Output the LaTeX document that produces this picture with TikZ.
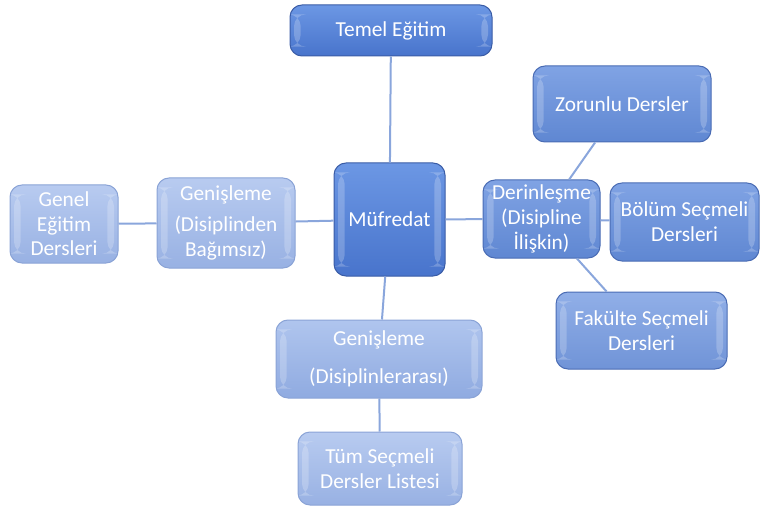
\documentclass[tikz,border=0pt]{standalone}
\usepackage{fontspec}
\setmainfont{Carlito}

\definecolor{darktop}{HTML}{6C97E4}
\definecolor{darkbot}{HTML}{4874CC}
\definecolor{darkedge}{HTML}{3A5CA6}
\definecolor{midtop}{HTML}{80A3E4}
\definecolor{midbot}{HTML}{5F87D2}
\definecolor{midedge}{HTML}{4A6CB4}
\definecolor{lighttop}{HTML}{B8CBF0}
\definecolor{lightbot}{HTML}{98B1E3}
\definecolor{lightedge}{HTML}{8AA3D6}
\definecolor{linkblue}{HTML}{8AA6DC}

\tikzset{every picture/.style={line width=0.75pt}}
\tikzset{
  box/.style={rounded corners=9pt, align=center, text=white, inner sep=0.75pt,
    font=\fontsize{16}{18.5}\selectfont,
    path picture={
      \fill[white, opacity=0.22] ([xshift=3pt,yshift=-7pt]path picture bounding box.north west) rectangle ([xshift=8pt,yshift=7pt]path picture bounding box.south west);
      \fill[white, opacity=0.22] ([xshift=-3pt,yshift=-7pt]path picture bounding box.north east) rectangle ([xshift=-8pt,yshift=7pt]path picture bounding box.south east);
    }},
  darkbox/.style={box, draw=darkedge, top color=darktop, bottom color=darkbot},
  midbox/.style={box, draw=midedge, top color=midtop, bottom color=midbot},
  lightbox/.style={box, draw=lightedge, top color=lighttop, bottom color=lightbot},
  link/.style={draw=linkblue, line width=1.5pt}
}

\begin{document}
\begin{tikzpicture}[x=0.75pt,y=0.75pt,yscale=-1,xscale=1]
\useasboundingbox (0,0) rectangle (760,506);

% Boxes
\node [darkbox, minimum width=151.5pt, minimum height=38.25pt] (temel) at (391,30.5) {Temel Eğitim};
\node [darkbox, minimum width=83.25pt, minimum height=84.75pt] (mufredat) at (389.5,219.5) {Müfredat};
\node [lightbox, minimum width=81pt, minimum height=58.5pt] (genel) at (64,224) {Genel\\Eğitim\\Dersleri};
\node [lightbox, minimum width=103.5pt, minimum height=67.5pt] (genleft) at (226,223) {Genişleme\\[5pt](Disiplinden\\Bağımsız)};
\node [midbox, minimum width=87.75pt, minimum height=58.5pt] (derin) at (541.5,219) {Derinleşme\\(Disipline\\İlişkin)};
\node [midbox, minimum width=133.5pt, minimum height=57pt] (zorunlu) at (622,104) {Zorunlu Dersler};
\node [midbox, minimum width=111.75pt, minimum height=58.5pt] (bolum) at (684.5,222) {Bölüm Seçmeli\\Dersleri};
\node [midbox, top color=midtop!70!lighttop, bottom color=midbot!70!lightbot, minimum width=128.25pt, minimum height=57.75pt] (fakulte) at (641.5,330.5) {Fakülte Seçmeli\\Dersleri};
\node [lightbox, top color=lighttop!85!midtop, bottom color=lightbot!85!midbot, minimum width=154.5pt, minimum height=58.5pt] (genbottom) at (379,359) {Genişleme\\[10pt](Disiplinlerarası)};
\node [lightbox, minimum width=123pt, minimum height=54.75pt] (tum) at (380,468.5) {Tüm Seçmeli\\Dersler Listesi};

% Connectors
\draw [link] (temel) -- (mufredat);
\draw [link] (mufredat) -- (genleft);
\draw [link] (genleft) -- (genel);
\draw [link] (mufredat) -- (derin);
\draw [link] (derin) -- (zorunlu);
\draw [link] (derin) -- (bolum);
\draw [link] (derin) -- (fakulte);
\draw [link] (mufredat) -- (genbottom);
\draw [link] (genbottom) -- (tum);

\end{tikzpicture}
\end{document}
